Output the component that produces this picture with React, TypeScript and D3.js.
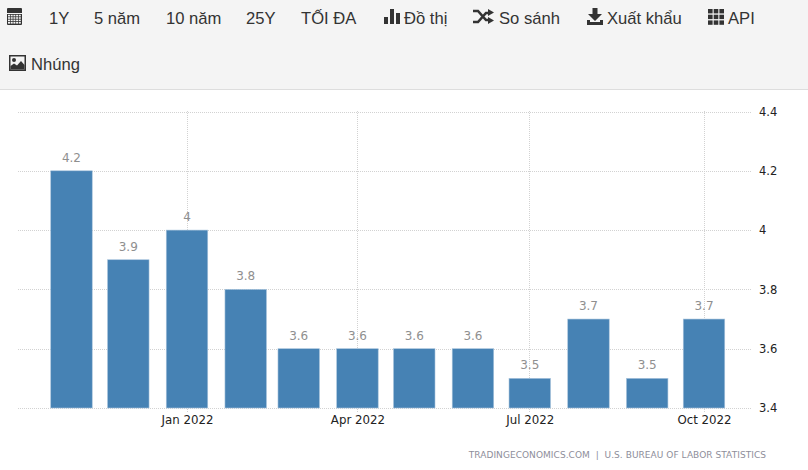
import { useEffect, useRef } from "react"
import { select, scaleLinear, scaleTime, axisRight, axisBottom, timeFormat } from "d3"

const months = ["2021-11-01", "2021-12-01", "2022-01-01", "2022-02-01", "2022-03-01", "2022-04-01", "2022-05-01", "2022-06-01", "2022-07-01", "2022-08-01", "2022-09-01", "2022-10-01"]
const rates = [4.2, 3.9, 4, 3.8, 3.6, 3.6, 3.6, 3.6, 3.5, 3.7, 3.5, 3.7]
const yTicks = [3.4, 3.6, 3.8, 4, 4.2, 4.4]
const xTicks = ["2022-01-01", "2022-04-01", "2022-07-01", "2022-10-01"]
const source = "TRADINGECONOMICS.COM  |  U.S. BUREAU OF LABOR STATISTICS"
const toolbarRow1 = [
  { text: "1Y", x: 49 },
  { text: "5 năm", x: 94 },
  { text: "10 năm", x: 166 },
  { text: "25Y", x: 246 },
  { text: "TỐI ĐA", x: 301 },
  { text: "Đồ thị", x: 404 },
  { text: "So sánh", x: 499 },
  { text: "Xuất khẩu", x: 607 },
  { text: "API", x: 728 },
]

const WIDTH = 808
const HEIGHT = 470
const barWidth = 41.5
const iconColor = "#333333"

const parse = (s: string) => new Date(s + "T00:00:00")

export default function App() {
  const svgRef = useRef<SVGSVGElement>(null)

  useEffect(() => {
    const svg = select(svgRef.current)
    svg.selectAll("*").remove()

    // Toolbar
    svg.append("rect").attr("width", WIDTH).attr("height", 89).attr("fill", "#f4f4f4")
    svg.append("rect").attr("y", 89).attr("width", WIDTH).attr("height", 1).attr("fill", "#dddddd")

    svg.selectAll("text.tool")
      .data(toolbarRow1)
      .join("text")
      .attr("class", "tool")
      .attr("x", d => d.x)
      .attr("y", 24)
      .attr("font-family", "Liberation Sans")
      .attr("font-size", 16.6)
      .attr("fill", iconColor)
      .text(d => d.text)

    svg.append("text")
      .attr("x", 31).attr("y", 70)
      .attr("font-family", "Liberation Sans")
      .attr("font-size", 16.6)
      .attr("fill", iconColor)
      .text("Nhúng")

    drawIcons(svg)

    // Scales
    const x = scaleTime([parse("2022-01-01"), parse("2022-10-01")], [187, 704])
    const y = scaleLinear([3.4, 4.4], [408, 111.5])

    // Grid
    const grid = svg.append("g").attr("stroke", "#d2d2d2").attr("stroke-dasharray", "1,1")
    grid.selectAll("line.h")
      .data(yTicks)
      .join("line")
      .attr("class", "h")
      .attr("x1", 18).attr("x2", 752)
      .attr("y1", d => Math.round(y(d)) + 0.5)
      .attr("y2", d => Math.round(y(d)) + 0.5)
    grid.selectAll("line.v")
      .data(xTicks)
      .join("line")
      .attr("class", "v")
      .attr("x1", d => Math.floor(x(parse(d))) + 0.5)
      .attr("x2", d => Math.floor(x(parse(d))) + 0.5)
      .attr("y1", 111).attr("y2", 412)

    // Bars
    svg.selectAll("rect.bar")
      .data(rates)
      .join("rect")
      .attr("class", "bar")
      .attr("x", (_, i) => x(parse(months[i])) - barWidth / 2)
      .attr("y", d => y(d))
      .attr("width", barWidth)
      .attr("height", d => y(3.4) - y(d))
      .attr("fill", "#4682b4")
      .attr("stroke", "#a8c4dc")
      .attr("stroke-width", 0.6)

    // Value labels
    svg.selectAll("text.value")
      .data(rates)
      .join("text")
      .attr("class", "value")
      .attr("x", (_, i) => x(parse(months[i])))
      .attr("y", d => y(d) - 9)
      .attr("text-anchor", "middle")
      .attr("font-family", "DejaVu Sans")
      .attr("font-size", 12)
      .attr("fill", "#8f8f8f")
      .text(d => `${d}`)

    // Axes
    const yAxis = svg.append("g")
      .attr("transform", "translate(752,0)")
      .call(axisRight(y).tickValues(yTicks).tickSize(0).tickPadding(7).tickFormat(d => `${d}`))
    yAxis.select(".domain").remove()
    yAxis.selectAll("text")
      .attr("font-family", "DejaVu Sans")
      .attr("font-size", 11.5)
      .attr("fill", "#222222")

    const xAxis = svg.append("g")
      .attr("transform", "translate(0,408)")
      .call(axisBottom(x).tickValues(xTicks.map(parse)).tickSize(0).tickPadding(8).tickFormat(d => timeFormat("%b %Y")(d as Date)))
    xAxis.select(".domain").remove()
    xAxis.selectAll("text")
      .attr("font-family", "DejaVu Sans")
      .attr("font-size", 11.8)
      .attr("fill", "#222222")

    svg.append("text")
      .attr("x", 766).attr("y", 458)
      .attr("text-anchor", "end")
      .attr("font-family", "DejaVu Sans")
      .attr("font-size", 9)
      .attr("letter-spacing", 0.05)
      .attr("fill", "#8e8e9a")
      .style("white-space", "pre")
      .text(source)
  }, [])

  return (
    <svg
      ref={svgRef}
      width={WIDTH}
      height={HEIGHT}
      style={{ position: "absolute", left: 0, top: 0, background: "#ffffff" }}
    />
  )
}

// glyph-style toolbar icons
function drawIcons(svg: any) {
  const icons = svg.append("g").attr("fill", iconColor)

  // calendar
  const cal = icons.append("g").attr("transform", "translate(7,8)")
  cal.append("rect").attr("width", 15).attr("height", 17).attr("rx", 1)
  cal.append("rect").attr("x", 0).attr("y", 5).attr("width", 15).attr("height", 1).attr("fill", "#f4f4f4")
  for (let r = 0; r < 4; r++) {
    for (let c = 0; c < 5; c++) {
      cal.append("rect")
        .attr("x", 1 + c * 2.7).attr("y", 6.8 + r * 2.4)
        .attr("width", 2).attr("height", 1.6)
        .attr("fill", "#f4f4f4")
    }
  }

  // bar chart
  const bars = icons.append("g").attr("transform", "translate(384,9)")
  bars.append("rect").attr("x", 0).attr("y", 8).attr("width", 4).attr("height", 7)
  bars.append("rect").attr("x", 6).attr("y", 0).attr("width", 4).attr("height", 15)
  bars.append("rect").attr("x", 12).attr("y", 4).attr("width", 4).attr("height", 11)

  // shuffle
  const shuffle = icons.append("g").attr("transform", "translate(473,9)")
  shuffle.append("path")
    .attr("d", "M0 2H5L13 11H16M0 13H5L13 4H16")
    .attr("fill", "none").attr("stroke", iconColor).attr("stroke-width", 2.6)
  shuffle.append("path").attr("d", "M15 0L21 3.5L15 7Z")
  shuffle.append("path").attr("d", "M15 8L21 11.5L15 15Z")

  // download
  const dl = icons.append("g").attr("transform", "translate(587,8)")
  dl.append("path").attr("d", "M5.5 0H10.5V6H15L8 13L1 6H5.5Z")
  dl.append("path").attr("d", "M0 12H3V14H13V12H16V17H0Z")

  // grid
  const gridIcon = icons.append("g").attr("transform", "translate(708,9)")
  for (let r = 0; r < 3; r++) {
    for (let c = 0; c < 3; c++) {
      gridIcon.append("rect")
        .attr("x", c * 5.7).attr("y", r * 5.7)
        .attr("width", 4.6).attr("height", 4.4)
    }
  }

  // picture
  const pic = icons.append("g").attr("transform", "translate(9,55)")
  pic.append("rect").attr("width", 17).attr("height", 16)
  pic.append("rect").attr("x", 1.5).attr("y", 1.5).attr("width", 14).attr("height", 13).attr("fill", "#f4f4f4")
  pic.append("circle").attr("cx", 5).attr("cy", 5).attr("r", 2)
  pic.append("path").attr("d", "M1.5 14.5V11L5 8.5L8 10.5L12 6L15.5 10V14.5Z")
}
